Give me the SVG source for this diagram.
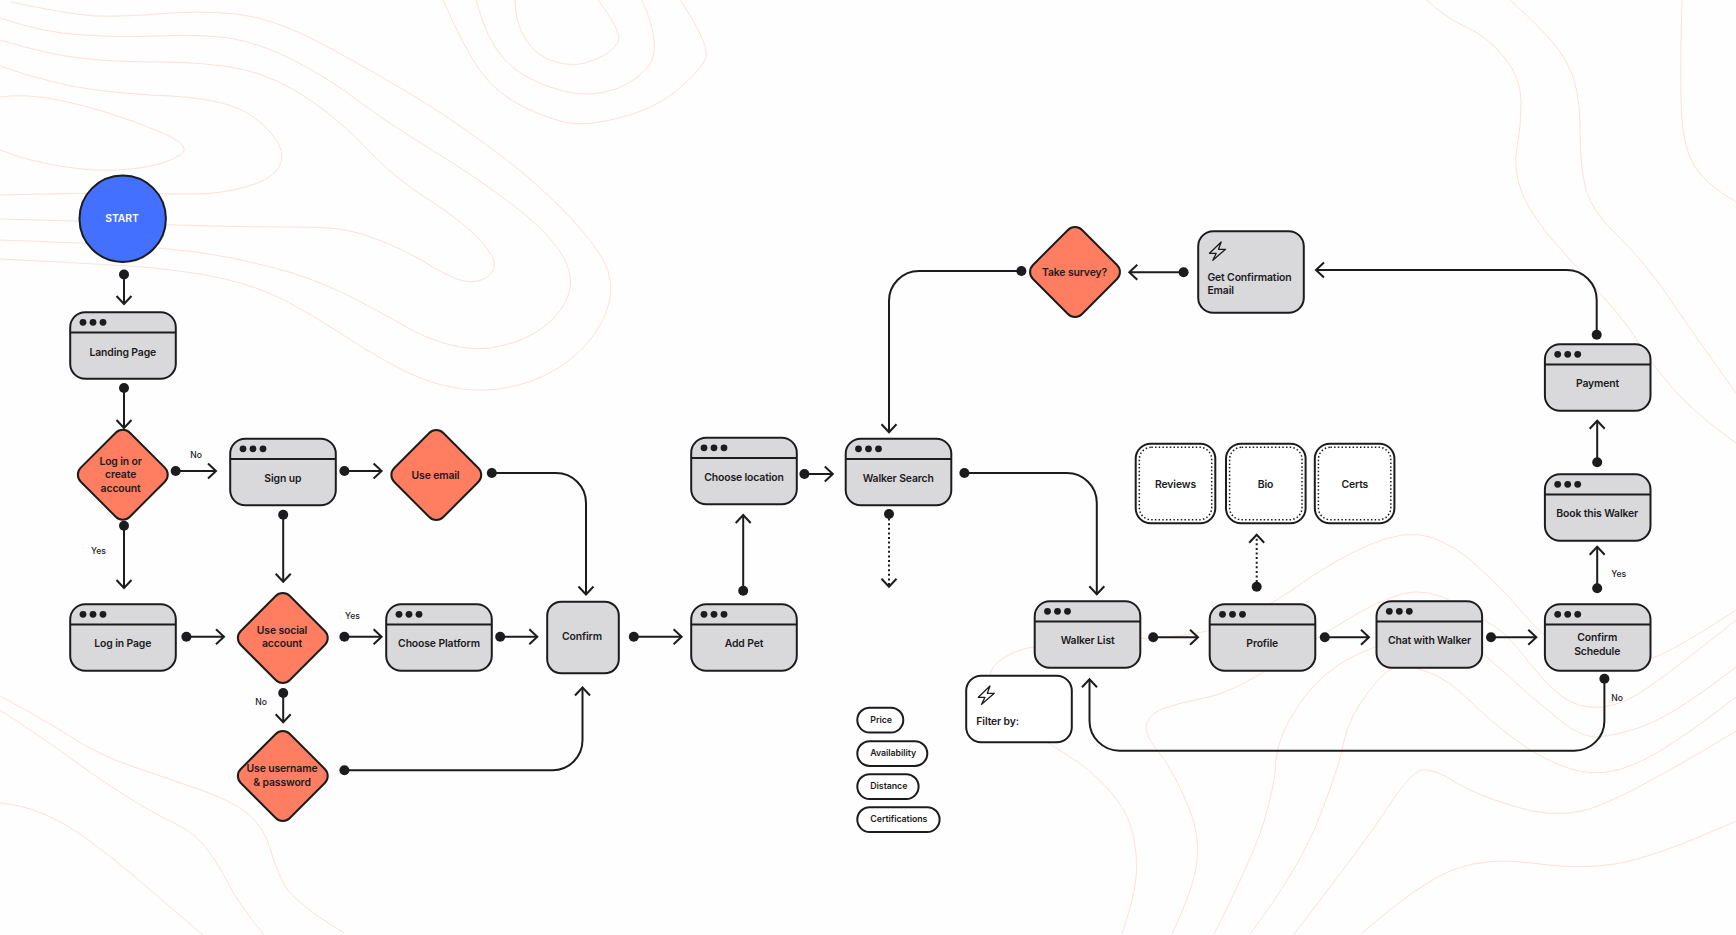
<svg xmlns="http://www.w3.org/2000/svg" width="1736" height="935" viewBox="0 0 1736 935">
<style>
.bg{fill:#fefefe}
.contour{fill:none;stroke:#fae2da;stroke-width:1}
.s{stroke:#1c1c1e;stroke-width:2}
.win{fill:#d9d8da;stroke:#1c1c1e;stroke-width:2}
.white{fill:#fff;stroke:#1c1c1e;stroke-width:2}
.dec{fill:#ff7d61;stroke:#1c1c1e;stroke-width:2}
.inner{fill:none;stroke:#1c1c1e;stroke-width:1.5;stroke-dasharray:1.5 2.2}
.dot{fill:#1c1c1e}
.c{fill:none;stroke:#1c1c1e;stroke-width:2;marker-start:url(#start);marker-end:url(#arrow)}
.d{stroke-dasharray:2 2.6}
text{font-family:Inter,"Liberation Sans",sans-serif;font-weight:600;font-size:10.4px;letter-spacing:-.12px;fill:#1c1c1e}
.m{text-anchor:middle}
.small{font-size:8.6px;font-weight:500;letter-spacing:0}
.pill{font-size:8.8px;font-weight:600;letter-spacing:-.05px}
.start{fill:#fff}
.bolt{fill:none;stroke:#1c1c1e;stroke-width:1.3;stroke-linejoin:round}
</style>
<defs>
<marker id="arrow" markerUnits="userSpaceOnUse" markerWidth="20" markerHeight="20" refX="10" refY="10" orient="auto" overflow="visible"><path d="M2,2.5 L10,10 L2,17.5" fill="none" stroke="#1c1c1e" stroke-width="2"/></marker>
<marker id="start" markerUnits="userSpaceOnUse" markerWidth="12" markerHeight="12" refX="6" refY="6" orient="auto" overflow="visible"><circle cx="6" cy="6" r="5" fill="#1c1c1e"/></marker>
<g id="w">
<rect x=".2" y=".2" width="105.6" height="66.6" rx="15" class="win"/>
<line x1=".2" y1="20.5" x2="105.8" y2="20.5" class="s"/>
<circle cx="13" cy="10.3" r="3.4" class="dot"/><circle cx="23" cy="10.3" r="3.4" class="dot"/><circle cx="33" cy="10.3" r="3.4" class="dot"/>
</g>
<rect id="di" x="-34.7" y="-34.7" width="69.4" height="69.4" rx="10" class="dec" transform="rotate(45)"/>
<path id="bolt" class="bolt" d="M11.7,0 L0,11.3 L6.7,11.3 L3.3,18.3 L16,7.3 L9,7.3 Z"/>
<g id="box"><rect x=".2" y=".2" width="79.6" height="79.6" rx="15" class="white"/><rect x="3.8" y="3.8" width="72.4" height="72.4" rx="12" class="inner"/></g>
</defs>
<rect class="bg" x="0" y="0" width="1736" height="935"/>
<g id="contours" class="contour">
<path d="M11,2 Q72,15 97,16 Q122,17 171,13 Q221,10 254,17 Q288,25 326,46 Q365,67 404,90 Q443,113 484,143 Q526,173 556,203 Q587,233 602,258 Q617,283 607,310 Q597,338 572,358 Q548,378 515,386 Q482,394 451,387 Q421,381 393,365 Q365,350 340,333 Q316,317 288,302 Q260,287 221,278 Q183,270 130,266 Q78,263 0,259"/>
<path d="M0,18 Q44,33 83,35 Q122,38 160,36 Q199,34 229,38 Q260,43 293,60 Q327,77 357,100 Q388,123 432,150 Q476,177 509,202 Q543,227 559,250 Q575,273 569,293 Q563,312 545,326 Q527,340 501,346 Q476,352 451,345 Q426,339 401,324 Q377,310 343,293 Q310,277 271,267 Q233,257 197,252 Q161,248 122,245 Q83,243 0,240"/>
<path d="M0,40 Q50,55 80,58 Q111,62 158,62 Q205,62 241,69 Q277,77 310,100 Q343,123 368,150 Q393,177 429,200 Q465,223 481,241 Q497,259 494,268 Q491,277 481,280 Q471,284 457,279 Q443,274 423,261 Q404,250 382,241 Q360,232 340,229 Q321,227 290,227 Q260,227 213,226 Q166,225 124,223 Q83,221 0,219"/>
<path d="M0,66 Q55,85 96,90 Q138,95 171,96 Q205,98 229,105 Q254,113 271,133 Q288,153 279,167 Q270,181 245,187 Q221,194 193,194 Q166,194 124,193 Q83,193 0,195"/>
<path d="M0,97 Q22,94 47,98 Q72,102 105,112 Q138,122 165,134 Q193,147 180,155 Q168,163 146,167 Q122,171 94,170 Q66,168 44,163 Q22,159 0,150"/>
<path d="M443,0 Q465,50 481,72 Q498,95 526,108 Q554,121 570,123 Q587,126 619,118 Q652,110 675,92 Q698,73 705,60 Q712,47 680,0"/>
<path d="M476,0 Q487,40 503,58 Q520,77 550,87 Q581,98 605,92 Q630,87 647,68 Q664,50 642,0"/>
<path d="M515,0 Q515,23 526,40 Q537,57 556,62 Q576,68 594,60 Q613,52 618,42 Q623,33 598,0"/>
<path d="M1427,0 Q1444,17 1466,27 Q1488,37 1504,57 Q1521,77 1521,102 Q1521,127 1517,148 Q1513,170 1522,193 Q1532,217 1557,245 Q1582,273 1604,298 Q1627,323 1640,345 Q1654,367 1676,392 Q1699,417 1736,443"/>
<path d="M1510,0 Q1555,40 1567,63 Q1580,87 1580,127 Q1580,167 1586,190 Q1593,213 1618,236 Q1643,260 1668,296 Q1693,333 1736,393"/>
<path d="M1682,0 Q1679,100 1683,130 Q1687,160 1701,175 Q1715,190 1736,202"/>
<path d="M0,696 Q50,723 76,740 Q103,757 137,768 Q172,780 201,790 Q230,800 247,813 Q264,827 270,848 Q276,870 285,886 Q295,903 344,933"/>
<path d="M0,710 Q46,740 73,760 Q100,780 126,796 Q153,813 174,823 Q195,833 206,848 Q218,863 229,885 Q241,907 264,935"/>
<path d="M0,803 Q23,805 44,814 Q65,823 90,841 Q115,860 140,881 Q165,903 203,935"/>
<path d="M1122,934 Q1134,898 1136,878 Q1138,858 1133,834 Q1128,811 1108,789 Q1089,768 1067,755 Q1045,742 1020,721 Q995,700 991,687 Q987,675 994,666 Q1001,658 1017,651 Q1034,645 1077,642 Q1120,640 1164,637 Q1209,635 1243,618 Q1278,601 1305,581 Q1333,561 1369,545 Q1405,529 1430,537 Q1455,545 1477,566 Q1499,585 1522,612 Q1545,640 1572,654 Q1600,668 1625,664 Q1651,661 1670,650 Q1690,640 1736,610"/>
<path d="M1172,934 Q1195,885 1197,860 Q1200,835 1189,808 Q1178,781 1164,759 Q1146,738 1146,728 Q1146,716 1162,709 Q1178,703 1200,699 Q1222,695 1244,683 Q1267,671 1294,653 Q1322,635 1350,618 Q1378,601 1402,594 Q1427,587 1455,603 Q1483,620 1494,626 Q1506,633 1524,656 Q1542,680 1560,695 Q1579,710 1603,707 Q1627,704 1653,684 Q1680,665 1736,620"/>
<path d="M1214,934 Q1256,851 1265,818 Q1275,785 1276,760 Q1278,735 1300,703 Q1322,671 1356,655 Q1390,640 1415,632 Q1440,625 1461,638 Q1483,652 1504,672 Q1526,693 1550,712 Q1575,734 1589,736 Q1603,739 1635,729 Q1668,720 1736,667"/>
<path d="M1250,934 Q1300,868 1319,818 Q1339,768 1344,741 Q1350,715 1369,691 Q1388,667 1398,666 Q1408,665 1428,672 Q1449,680 1469,700 Q1489,720 1517,741 Q1546,762 1574,770 Q1603,778 1635,764 Q1668,750 1736,697"/>
<path d="M1294,934 Q1366,841 1388,807 Q1411,772 1422,770 Q1433,768 1455,782 Q1477,795 1513,806 Q1549,818 1582,811 Q1616,804 1736,731"/>
<path d="M1361,934 Q1422,881 1455,869 Q1488,857 1532,863 Q1577,870 1615,864 Q1654,858 1736,821"/>
</g>
<g id="connectors">
<path class="c" d="M124,274.5 V304"/>
<path class="c" d="M124,388 V428"/>
<path class="c" d="M175.7,471 H216"/>
<path class="c" d="M344.4,471 H381.6"/>
<path class="c" d="M491.8,473 H556 A30,30 0 0 1 586,503 V594.5"/>
<path class="c" d="M124,525.7 V588"/>
<path class="c" d="M283.2,514.7 V581.7"/>
<path class="c" d="M186.4,636.7 H224"/>
<path class="c" d="M344.4,636.7 H381.6"/>
<path class="c" d="M500.2,636.7 H537.3"/>
<path class="c" d="M283.2,693 V722.3"/>
<path class="c" d="M344.4,770.3 H552.5 A30,30 0 0 0 582.5,740.3 V687.5"/>
<path class="c" d="M633.8,636.7 H681.6"/>
<path class="c" d="M743.2,590.7 V515"/>
<path class="c" d="M804.4,474 H832.8"/>
<path class="c" d="M964.4,473 H1066.8 A30,30 0 0 1 1096.8,503 V594.3"/>
<path class="c d" d="M889,514 V586.7"/>
<path class="c" d="M1021.4,271 H919 A30,30 0 0 0 889,301 V432.3"/>
<path class="c" d="M1183.6,272.3 H1129.3"/>
<path class="c" d="M1596.7,334.7 V300 A30,30 0 0 0 1566.7,270 H1316"/>
<path class="c" d="M1597.2,462.3 V420.7"/>
<path class="c" d="M1597.2,588.3 V546.7"/>
<path class="c" d="M1604.4,678.7 V720.7 A30,30 0 0 1 1574.4,750.7 H1119.5 A30,30 0 0 1 1089.5,720.7 V679.3"/>
<path class="c" d="M1153.2,637.3 H1198"/>
<path class="c" d="M1324.8,637.3 H1369"/>
<path class="c" d="M1491,637.3 H1536.3"/>
<path class="c d" d="M1256.7,586.7 V534.7"/>
</g>
<g id="edge-labels">
<text class="small m" x="196" y="457.5">No</text>
<text class="small m" x="98.5" y="554">Yes</text>
<text class="small m" x="352.5" y="619">Yes</text>
<text class="small m" x="261" y="705">No</text>
<text class="small m" x="1618.8" y="577">Yes</text>
<text class="small m" x="1617" y="700.5">No</text>
</g>
<g id="start-node"><circle cx="122.7" cy="218.7" r="43.2" fill="#4470ff" stroke="#1c1c1e" stroke-width="2"/><text class="m start" x="122" y="222.4">START</text></g>
<g id="landing-page"><use href="#w" x="70" y="312"/><text class="m" x="122.8" y="355.5">Landing Page</text></g>
<g id="log-in-or-create"><use href="#di" transform="translate(122.8,474.7)"/><text class="m" x="120.6" y="464.5">Log in or</text><text class="m" x="120.6" y="478">create</text><text class="m" x="120.6" y="491.5">account</text></g>
<g id="sign-up"><use href="#w" x="230" y="438.5"/><text class="m" x="282.8" y="481.5">Sign up</text></g>
<g id="use-email"><use href="#di" transform="translate(436.3,475)"/><text class="m" x="435.5" y="478.8">Use email</text></g>
<g id="log-in-page"><use href="#w" x="70" y="604"/><text class="m" x="122.8" y="647.1">Log in Page</text></g>
<g id="use-social"><use href="#di" transform="translate(282.8,638)"/><text class="m" x="282" y="633.8">Use social</text><text class="m" x="282" y="647.1">account</text></g>
<g id="choose-platform"><use href="#w" x="386" y="604"/><text class="m" x="439" y="647.1">Choose Platform</text></g>
<g id="use-username"><use href="#di" transform="translate(282.8,776)"/><text class="m" x="282" y="772.1">Use username</text><text class="m" x="282" y="785.5">&amp; password</text></g>
<g id="confirm"><rect x="547.2" y="601.7" width="71.6" height="71.6" rx="14" class="win"/><text class="m" x="582" y="639.8">Confirm</text></g>
<g id="add-pet"><use href="#w" x="691" y="604"/><text class="m" x="744" y="647.1">Add Pet</text></g>
<g id="choose-location"><use href="#w" x="691" y="437.5"/><text class="m" x="744" y="480.5">Choose location</text></g>
<g id="walker-search"><use href="#w" x="845.5" y="438.5"/><text class="m" x="898.2" y="481.5">Walker Search</text></g>
<g id="walker-list"><use href="#w" x="1034.5" y="601"/><text class="m" x="1087.6" y="643.8">Walker List</text></g>
<g id="filter-by"><rect x="966.2" y="675.7" width="105.6" height="66.6" rx="15" class="white"/><use href="#bolt" x="978.3" y="686"/><text x="976.3" y="724.5">Filter by:</text></g>
<g id="pill-price"><rect x="857.3" y="707.7" width="46" height="24.8" rx="12.4" class="white"/><text class="pill" x="870.3" y="722.8">Price</text></g>
<g id="pill-availability"><rect x="857.3" y="741.2" width="70" height="24.8" rx="12.4" class="white"/><text class="pill" x="870.3" y="756.2">Availability</text></g>
<g id="pill-distance"><rect x="857.3" y="774.2" width="61.3" height="24.8" rx="12.4" class="white"/><text class="pill" x="870.3" y="789.2">Distance</text></g>
<g id="pill-certifications"><rect x="857.3" y="807.2" width="82.3" height="24.8" rx="12.4" class="white"/><text class="pill" x="870.3" y="822.2">Certifications</text></g>
<g id="reviews"><use href="#box" x="1135.5" y="443.5"/><text class="m" x="1175.5" y="487.8">Reviews</text></g>
<g id="bio"><use href="#box" x="1225.8" y="443.5"/><text class="m" x="1265.5" y="487.8">Bio</text></g>
<g id="certs"><use href="#box" x="1314.6" y="443.5"/><text class="m" x="1354.8" y="487.8">Certs</text></g>
<g id="profile"><use href="#w" x="1209.5" y="604"/><text class="m" x="1262.2" y="647.1">Profile</text></g>
<g id="chat-with-walker"><use href="#w" x="1376.3" y="601"/><text class="m" x="1429.5" y="643.8">Chat with Walker</text></g>
<g id="confirm-schedule"><use href="#w" x="1544.7" y="604"/><text class="m" x="1597.2" y="641.1">Confirm</text><text class="m" x="1597.2" y="654.5">Schedule</text></g>
<g id="book-this-walker"><use href="#w" x="1544.7" y="474"/><text class="m" x="1597.2" y="517.1">Book this Walker</text></g>
<g id="payment"><use href="#w" x="1544.7" y="344"/><text class="m" x="1597.5" y="387.1">Payment</text></g>
<g id="get-confirmation"><rect x="1198.2" y="231.2" width="105.6" height="81.6" rx="15" class="win"/><use href="#bolt" x="1209.5" y="242"/><text x="1207.4" y="280.5">Get Confirmation</text><text x="1207.4" y="293.8">Email</text></g>
<g id="take-survey"><use href="#di" transform="translate(1075,272)"/><text class="m" x="1074.5" y="275.8">Take survey?</text></g>
</svg>
